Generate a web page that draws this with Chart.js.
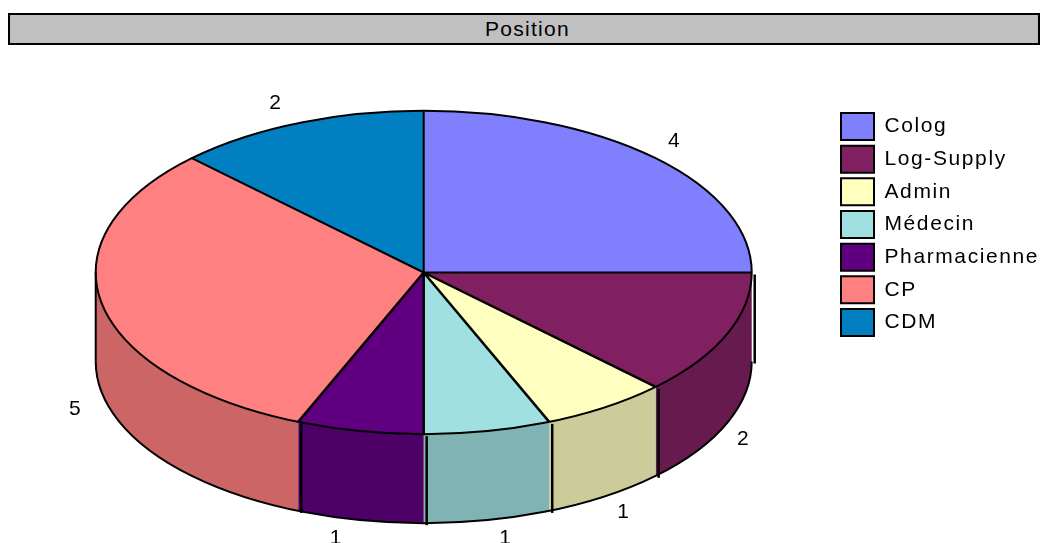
<!DOCTYPE html>
<html>
<head>
<meta charset="utf-8">
<title>Position</title>
<script src="https://cdn.jsdelivr.net/npm/chart.js@4"></script>
<style>
body { margin: 0; background: #fff; }
#wrap { position: relative; width: 1043px; height: 543px; overflow: hidden; }
#myChart { position: absolute; left: 0; top: 0; }
#titleBar {
    position: absolute; left: 8px; top: 13px; width: 1021px; height: 28px;
    border: 2px solid #000; background: #c0c0c0; color: #000;
    font: 21px "Liberation Sans", Arial, sans-serif; letter-spacing: 1.3px;
    line-height: 28px; text-align: center; padding-left: 7px; box-sizing: content-box;
}
</style>
</head>
<body>
<div id="wrap">
    <canvas id="myChart" width="1043" height="543"></canvas>
    <div id="titleBar">Position</div>
</div>
<script>
const categories = ['Colog', 'Log-Supply', 'Admin', 'Médecin', 'Pharmacienne', 'CP', 'CDM'];
const values = [4, 2, 1, 1, 1, 5, 2];
const topColors = ['#8080ff', '#802060', '#ffffc0', '#a0e0e0', '#600080', '#ff8080', '#0080c0'];
const sideColors = ['#6666cc', '#661a4d', '#cccc9a', '#80b3b3', '#4d0066', '#cc6666', '#00669a'];

const squash = 0.493;   // pie is tilted, height / width of the ellipse
const depth = 89;
const labelFont = '21px "Liberation Sans", Arial, sans-serif';
// small hand shifts for the value labels
const labelShift = [[0, 0], [-8, 7], [3, -3], [13, -5], [-18, -5], [0, 12], [-12, 2]];

const pie3d = {
    id: 'pie3d',
    afterLayout(chart) {
        const legend = chart.legend;
        legend.left = 841 - 5.67;
        legend.top = 113 - 5.67;
        legend.right = 1043;
    },
    beforeDraw(chart) {
        chart.ctx.letterSpacing = '1.6px';
    },
    beforeDatasetsDraw(chart) {
        const ctx = chart.ctx;
        const arcs = chart.getDatasetMeta(0).data;
        const cx = arcs[0].x, cy = arcs[0].y, rx = arcs[0].outerRadius, ry = rx * squash;

        // side wall, only the part of the rim facing us
        arcs.forEach((arc, i) => {
            const a = Math.max(arc.startAngle, 0);
            const b = Math.min(arc.endAngle, Math.PI);
            if (b <= a) return;
            ctx.beginPath();
            ctx.ellipse(cx, cy, rx, ry, 0, a, b);
            ctx.ellipse(cx, cy + depth, rx, ry, 0, b, a, true);
            ctx.closePath();
            ctx.fillStyle = sideColors[i];
            ctx.fill();
        });

        ctx.save();
        ctx.translate(0, cy);
        ctx.scale(1, squash);
        ctx.translate(0, -cy);
    },
    afterDatasetsDraw(chart) {
        const ctx = chart.ctx;
        ctx.restore();

        const arcs = chart.getDatasetMeta(0).data;
        const cx = arcs[0].x, cy = arcs[0].y, rx = arcs[0].outerRadius, ry = rx * squash;

        ctx.save();
        ctx.strokeStyle = '#000';
        ctx.lineWidth = 2;

        ctx.beginPath();
        ctx.ellipse(cx, cy, rx, ry, 0, 0, Math.PI * 2);
        ctx.stroke();
        ctx.beginPath();
        ctx.ellipse(cx, cy + depth, rx, ry, 0, 0, Math.PI);
        ctx.stroke();

        // spokes on top, and the wall edges sit a bit to the right of them
        arcs.forEach((arc) => {
            const px = cx + rx * Math.cos(arc.startAngle);
            const py = cy + ry * Math.sin(arc.startAngle);
            ctx.lineWidth = arc.startAngle > 0 && arc.startAngle < Math.PI ? 2.5 : 2;
            ctx.beginPath();
            ctx.moveTo(cx, cy);
            ctx.lineTo(px, py);
            ctx.stroke();
            if (arc.startAngle >= -0.001 && arc.startAngle < Math.PI) {
                ctx.lineWidth = 2.5;
                ctx.beginPath();
                ctx.moveTo(px + 3, py + 2);
                ctx.lineTo(px + 3, py + depth + 2);
                ctx.stroke();
            }
        });
        ctx.lineWidth = 2;
        ctx.beginPath();
        ctx.moveTo(cx - rx, cy);
        ctx.lineTo(cx - rx, cy + depth);
        ctx.stroke();

        // value labels
        ctx.fillStyle = '#000';
        ctx.font = labelFont;
        ctx.textAlign = 'center';
        ctx.textBaseline = 'middle';
        arcs.forEach((arc, i) => {
            const mid = (arc.startAngle + arc.endAngle) / 2;
            const s = Math.sin(mid);
            const x = cx + 355 * Math.cos(mid) + labelShift[i][0];
            const y = cy + 185 * s + (s > 0 ? depth : 0) + labelShift[i][1];
            ctx.fillText(String(values[i]), x, y);
        });
        ctx.restore();
    }
};

const ctx = document.getElementById('myChart').getContext('2d');
const myChart = new Chart(ctx, {
    type: 'pie',
    data: {
        labels: categories,
        datasets: [{
            data: values,
            backgroundColor: topColors,
            borderWidth: 0,
            radius: 328,
            clip: false
        }]
    },
    options: {
        responsive: false,
        animation: false,
        events: [],
        layout: { padding: { top: 2, right: 1 } },
        plugins: {
            tooltip: { enabled: false },
            title: { display: false },
            legend: {
                position: 'right',
                align: 'start',
                labels: {
                    boxWidth: 33,
                    boxHeight: 27,
                    padding: 5.67,
                    color: '#000',
                    font: { family: '"Liberation Sans", Arial, sans-serif', size: 21 },
                    generateLabels(chart) {
                        const items = Chart.overrides.pie.plugins.legend.labels.generateLabels(chart);
                        items.forEach((item) => {
                            item.strokeStyle = '#000';
                            item.lineWidth = 2;
                        });
                        return items;
                    }
                }
            }
        }
    },
    plugins: [pie3d]
});
</script>
</body>
</html>
